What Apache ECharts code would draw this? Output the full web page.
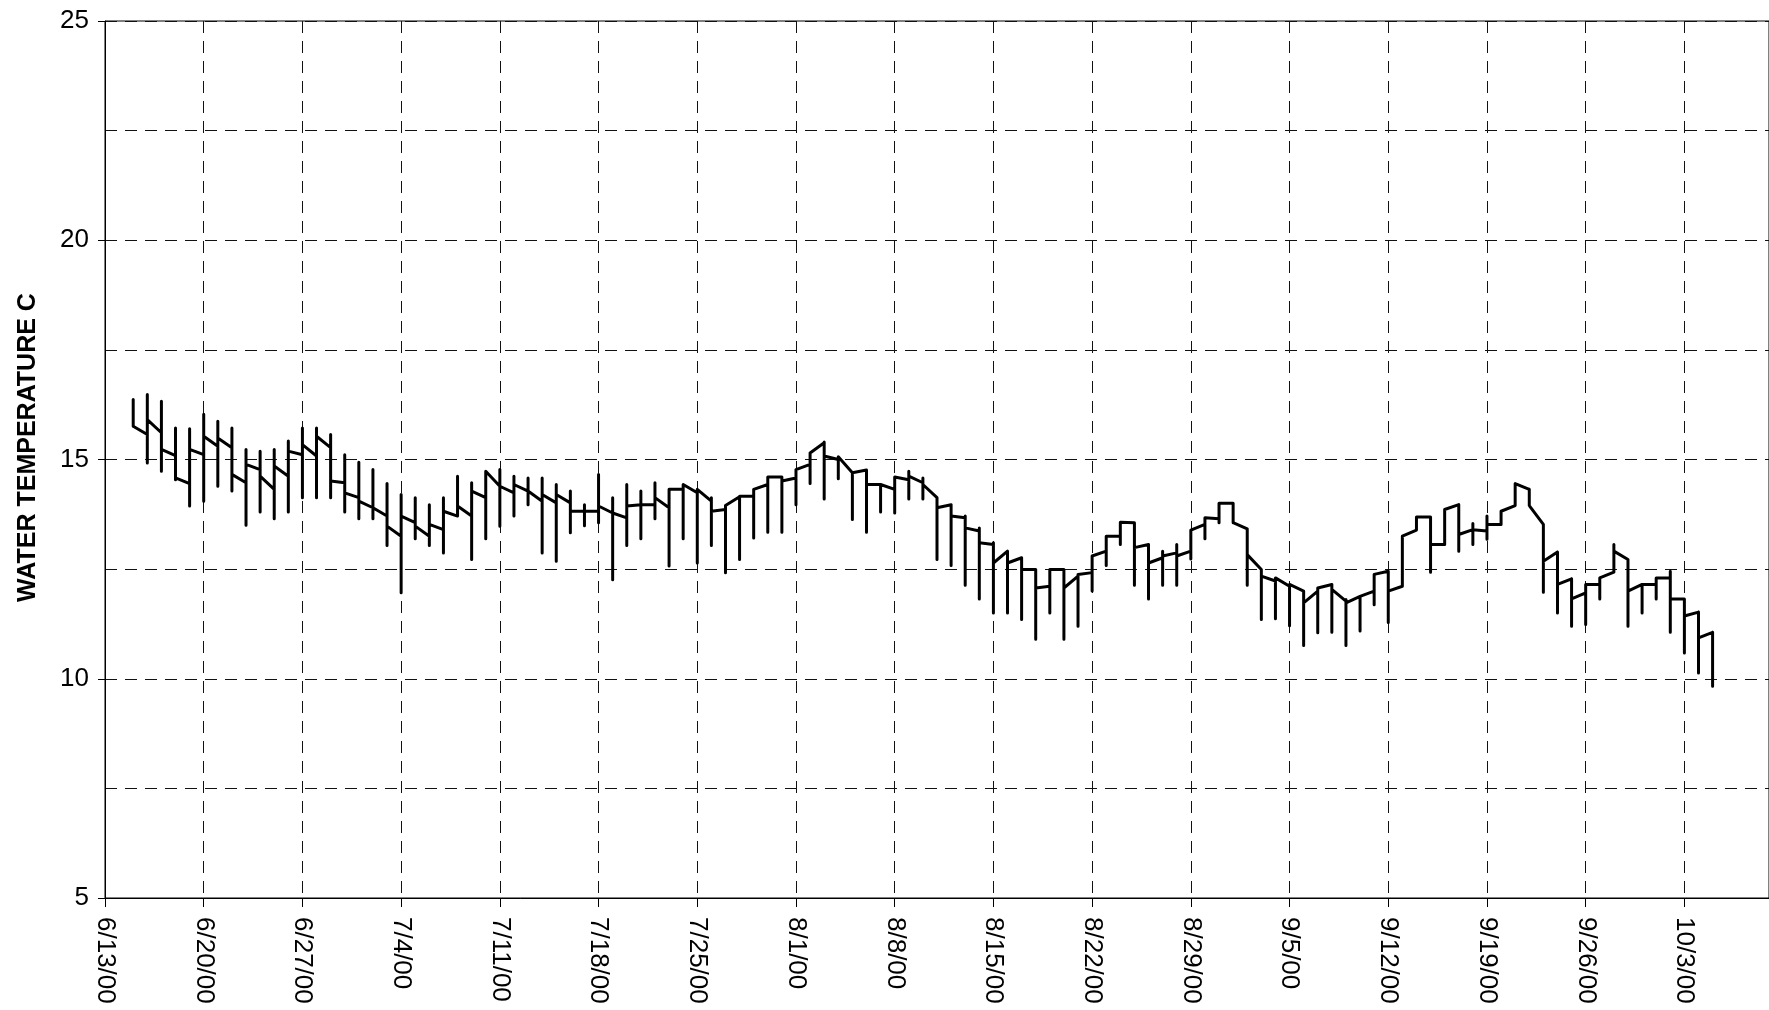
<!DOCTYPE html>
<html>
<head>
<meta charset="utf-8">
<script src="https://cdn.jsdelivr.net/npm/echarts@6/dist/echarts.min.js"></script>
<style>
  html, body { margin: 0; padding: 0; background: #fff; }
  #chart { width: 1769px; height: 1010px; }
</style>
</head>
<body>
<div id="chart"></div>
<script>
// days are counted from 6/13/00 (day 0); the record starts on 6/15/00
const startDate = Date.UTC(2000, 5, 13)
const firstDay = 2

// daily readings, 6/15/00 .. 10/5/00: first reading, low, high, last reading
const dayOpen = [
  15.90, 15.57, 15.61, 15.09, 14.45, 15.11, 15.30, 15.27, 14.47, 14.77,
  14.32, 14.62, 15.11, 15.08, 15.27, 14.47, 14.13, 13.90, 13.71, 13.25,
  13.56, 13.25, 13.40, 13.71, 13.71, 14.13, 14.39, 14.24, 14.28, 14.05,
  14.01, 14.01, 13.82, 13.82, 13.78, 13.67, 13.97, 13.97, 13.90, 14.32,
  14.24, 14.05, 13.86, 14.15, 14.16, 14.43, 14.60, 14.58, 14.89, 15.38,
  15.00, 14.70, 14.76, 14.43, 14.32, 14.54, 14.47, 14.13, 13.97, 13.67,
  13.37, 13.06, 12.91, 12.76, 12.49, 12.11, 12.49, 12.34, 12.42, 12.91,
  13.25, 13.56, 13.06, 12.76, 12.87, 12.91, 13.52, 13.65, 14.00, 13.42,
  12.49, 12.23, 12.11, 12.00, 12.00, 12.15, 11.77, 11.88, 12.00, 12.45,
  12.11, 13.39, 13.69, 13.06, 13.97, 13.40, 13.37, 13.52, 13.95, 14.32,
  13.52, 12.89, 12.28, 11.96, 12.15, 12.43, 12.72, 12.15, 12.15, 12.30,
  11.82, 11.52, 11.06
]
const dayLow = [
  15.76, 14.92, 14.73, 14.54, 13.94, 14.05, 14.39, 14.28, 13.50, 13.80,
  13.65, 13.80, 14.13, 14.13, 14.13, 13.80, 13.65, 13.65, 13.04, 11.96,
  13.19, 13.04, 12.87, 13.71, 12.72, 13.19, 13.48, 13.71, 13.97, 12.87,
  12.68, 13.33, 13.49, 13.56, 12.26, 13.04, 13.19, 13.65, 12.57, 13.19,
  12.64, 13.04, 12.42, 12.72, 13.21, 13.34, 13.34, 13.97, 14.45, 14.10,
  14.56, 13.63, 13.34, 13.80, 13.78, 14.10, 14.10, 12.72, 12.58, 12.13,
  11.82, 11.50, 11.50, 11.35, 10.90, 11.50, 10.90, 11.20, 12.00, 12.58,
  13.06, 12.13, 11.82, 12.13, 12.13, 12.73, 13.19, 13.56, 13.56, 12.13,
  11.35, 11.37, 11.21, 10.76, 11.05, 11.06, 10.76, 11.09, 11.69, 11.28,
  12.11, 13.39, 12.43, 13.06, 12.91, 13.06, 13.18, 13.52, 13.95, 13.95,
  11.97, 11.50, 11.20, 11.24, 11.82, 12.43, 11.20, 11.50, 11.82, 11.06,
  10.59, 10.13, 9.83
]
const dayHigh = [
  16.37, 16.48, 16.33, 15.72, 15.70, 16.03, 15.87, 15.72, 15.23, 15.19,
  15.23, 15.42, 15.72, 15.72, 15.57, 15.11, 14.94, 14.77, 14.45, 14.20,
  14.13, 13.97, 14.13, 14.62, 14.47, 14.73, 14.77, 14.62, 14.58, 14.58,
  14.43, 14.28, 13.97, 14.66, 14.13, 14.43, 14.28, 14.47, 14.32, 14.43,
  14.32, 14.13, 13.95, 14.16, 14.32, 14.60, 14.60, 14.77, 15.15, 15.40,
  15.06, 14.70, 14.76, 14.43, 14.60, 14.73, 14.58, 14.13, 13.97, 13.71,
  13.44, 13.10, 12.91, 12.76, 12.49, 12.49, 12.49, 12.38, 12.80, 13.25,
  13.57, 13.56, 13.06, 12.91, 13.06, 13.39, 13.67, 14.00, 14.00, 13.42,
  12.49, 12.30, 12.15, 12.00, 12.07, 12.15, 11.81, 11.88, 12.38, 12.45,
  13.25, 13.69, 13.69, 13.86, 13.97, 13.54, 13.71, 13.82, 14.45, 14.32,
  13.52, 12.89, 12.28, 12.15, 12.30, 13.06, 12.72, 12.15, 12.30, 12.45,
  11.82, 11.52, 11.06
]
const dayClose = [
  15.76, 15.91, 15.23, 14.58, 15.23, 15.53, 15.49, 14.66, 14.89, 14.62,
  14.85, 15.19, 15.34, 15.53, 14.51, 14.24, 14.05, 13.90, 13.48, 13.71,
  13.48, 13.52, 13.82, 13.94, 14.28, 14.70, 14.39, 14.43, 14.28, 14.20,
  14.20, 13.82, 13.82, 13.94, 13.78, 13.94, 13.97, 14.13, 14.32, 14.43,
  14.28, 13.82, 13.95, 14.15, 14.32, 14.60, 14.51, 14.77, 15.15, 15.08,
  15.04, 14.66, 14.43, 14.43, 14.60, 14.62, 14.43, 13.90, 13.71, 13.44,
  13.10, 12.64, 12.64, 12.49, 12.07, 12.49, 12.07, 12.38, 12.76, 13.24,
  13.57, 12.99, 12.64, 12.80, 12.80, 13.39, 13.67, 14.00, 13.56, 12.83,
  12.34, 12.26, 12.11, 11.73, 12.07, 12.04, 11.73, 11.88, 12.38, 12.00,
  13.25, 13.69, 13.06, 13.86, 13.29, 13.40, 13.52, 13.82, 14.45, 13.95,
  12.68, 12.15, 11.82, 12.13, 12.30, 12.91, 12.00, 12.15, 12.28, 11.82,
  11.43, 10.93, 9.83
]

const yTicks = [5, 10, 15, 20, 25]

function dayLabel(d) {
  const dt = new Date(startDate + d * 86400000)
  return (dt.getUTCMonth() + 1) + '/' + dt.getUTCDate() + '/' + String(dt.getUTCFullYear()).slice(2)
}

// all readings of one day share the same x, so each day becomes a vertical stroke
const points = []
for (let i = 0; i < dayOpen.length; i++) {
  const d = firstDay + i
  points.push([d, dayOpen[i]], [d, dayLow[i]], [d, dayHigh[i]], [d, dayClose[i]])
}

const font = '"Liberation Sans", Arial, sans-serif'
const gridDash = { type: [12, 8], color: '#111', width: 1 }

const chart = echarts.init(document.getElementById('chart'))
chart.setOption({
  backgroundColor: '#fff',
  animation: false,
  grid: {
    left: 105,
    top: 21,
    right: -2,
    bottom: 112,
    show: true,
    borderColor: '#000',
    borderWidth: 1
  },
  xAxis: {
    type: 'value',
    min: 0,
    max: 118,
    interval: 7,
    axisLine: { lineStyle: { color: '#000', width: 1 } },
    axisTick: { length: 9, lineStyle: { color: '#000' } },
    axisLabel: {
      rotate: -90,
      margin: 19,
      fontSize: 26,
      fontFamily: font,
      color: '#000',
      formatter(v) {
        return v % 7 === 0 ? dayLabel(v) : ''
      }
    },
    splitLine: { show: true, lineStyle: gridDash }
  },
  yAxis: {
    type: 'value',
    min: yTicks[0],
    max: yTicks[yTicks.length - 1],
    interval: 5,
    name: 'WATER TEMPERATURE C',
    nameLocation: 'middle',
    nameGap: 64,
    nameRotate: 90,
    nameTextStyle: {
      fontSize: 25,
      fontWeight: 'bold',
      fontFamily: font,
      color: '#000',
      padding: [0, 0, 0, 24]
    },
    axisLine: { show: true, lineStyle: { color: '#000', width: 1 } },
    axisTick: { show: true, length: 7, lineStyle: { color: '#000' } },
    axisLabel: { fontSize: 26, fontFamily: font, color: '#000', margin: 16 },
    splitLine: { show: true, lineStyle: gridDash },
    minorTick: { show: false, splitNumber: 2 },
    minorSplitLine: { show: true, lineStyle: gridDash }
  },
  series: [{
    type: 'line',
    data: points,
    symbol: 'none',
    lineStyle: { color: '#000', width: 3, join: 'round', cap: 'round' }
  }]
})
</script>
</body>
</html>
